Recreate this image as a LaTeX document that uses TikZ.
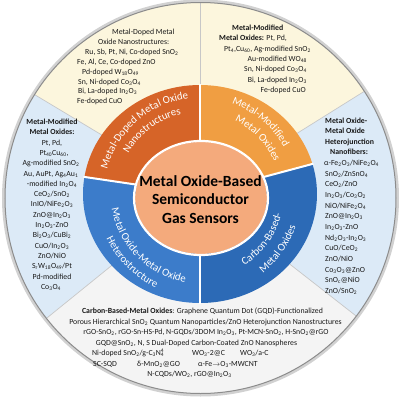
\documentclass[tikz,border=0pt]{standalone}
\usepackage{fontspec}
\setmainfont{Carlito}
\usetikzlibrary{decorations.text}
\newcommand\sbs[1]{\textsubscript{#1}}
\newcommand\subsupr[2]{\rlap{\textsuperscript{#2}}\textsubscript{#1}}
\newcommand\segf{\color{white}\fontsize{10.8}{12}\selectfont}
\definecolor{cream}{RGB}{252,246,221}
\definecolor{lblue}{RGB}{220,234,247}
\definecolor{lgray}{RGB}{244,244,244}
\definecolor{segTL}{RGB}{214,100,40}
\definecolor{segTR}{RGB}{240,158,66}
\definecolor{segBL}{RGB}{60,124,202}
\definecolor{segBR}{RGB}{44,106,182}
\definecolor{cen}{RGB}{244,170,124}
\tikzset{
 sm/.style={font=\fontsize{7.8}{9}\selectfont, inner sep=0pt, text=black!90},
 smw/.style={sm, anchor=base west},
 smc/.style={sm, anchor=base},
 sme/.style={sm, anchor=base east},
 divider/.style={draw=black!22, line width=0.7pt},
 sepline/.style={draw=white, line width=2pt},
 titlefont/.style={font=\bfseries\fontsize{15.5}{18.5}\selectfont, align=center, inner sep=0pt, text=black}
}
\begin{document}
\begin{tikzpicture}[x=1pt,y=1pt]
\useasboundingbox (0,0) rectangle (400,-397);
\fill[white] (0,0) rectangle (400,-397);
\coordinate (O) at (200.5,-198);
\coordinate (C) at (200,-194);
\coordinate (M) at (201,-198);

% outer sectors
\begin{scope}
\clip (O) circle (195.5);
\fill[cream] (C) -- ++(32:300) arc[start angle=32,end angle=149,radius=300] -- cycle;
\fill[lblue] (C) -- ++(149:300) arc[start angle=149,end angle=219,radius=300] -- cycle;
\fill[lgray] (C) -- ++(219:300) arc[start angle=219,end angle=322,radius=300] -- cycle;
\fill[lblue] (C) -- ++(322:300) arc[start angle=322,end angle=392,radius=300] -- cycle;
\foreach \a in {32,90,149,219,322} \draw[divider] (C) -- ++(\a:300);
\end{scope}
\draw[black!18, line width=3pt] (O) circle (197);
\draw[black!45, line width=1pt] (O) circle (195.5);

% ring segments
\fill[segTL] (C) -- ++(90:117 and 109) arc[start angle=90,end angle=171,x radius=117,y radius=109] -- cycle;
\fill[segBL] (C) -- ++(171:117 and 109) arc[start angle=171,end angle=270,x radius=117,y radius=109] -- cycle;
\fill[segBR] (C) -- ++(270:117 and 109) arc[start angle=270,end angle=376,x radius=117,y radius=109] -- cycle;
\fill[segTR] (C) -- ++(16:117 and 109) arc[start angle=16,end angle=90,x radius=117,y radius=109] -- cycle;
\foreach \a in {16,90,171,270} \draw[sepline] (C) -- ++(\a:118 and 110);

% central circle
\fill[cen] (M) ellipse[x radius=66, y radius=56];
\draw[white, line width=2.2pt] (M) ellipse[x radius=67, y radius=57];
\node[titlefont] (title) at (200.5,-199.5) {Metal Oxide-Based\\Semiconductor\\Gas Sensors};

% ring labels
\path[decorate, decoration={text along path, text align=center, text={|\segf|Metal-Doped Metal Oxide}}]
 ([shift={(171:96)}]C) arc[start angle=171, end angle=91, radius=96];
\path[decorate, decoration={text along path, text align=center, text={|\segf|Nanostructures}}]
 ([shift={(167:82)}]C) arc[start angle=167, end angle=87, radius=82];
\path[decorate, decoration={text along path, text align=center, text={|\segf|Metal-Modified}}]
 ([shift={(90:96)}]C) arc[start angle=90, end angle=10, radius=96];
\path[decorate, decoration={text along path, text align=center, text={|\segf|Metal Oxides}}]
 ([shift={(84:81)}]C) arc[start angle=84, end angle=4, radius=81];
\path[decorate, decoration={text along path, text align=center, text={|\segf|Metal Oxide-Metal Oxide}}]
 ([shift={(180:89.5)}]C) arc[start angle=180, end angle=270, radius=89.5];
\path[decorate, decoration={text along path, text align=center, text={|\segf|Heterostructure}}]
 ([shift={(180:103.5)}]C) arc[start angle=180, end angle=270, radius=103.5];
\path[decorate, decoration={text along path, text align=center, text={|\segf|Carbon-Based-}}]
 ([shift={(-76:84)}]C) arc[start angle=-76, end angle=4, radius=84];
\path[decorate, decoration={text along path, text align=center, text={|\segf|Metal Oxides}}]
 ([shift={(-75:101)}]C) arc[start angle=-75, end angle=5, radius=101];

% top-left block
\node[smw] (tl1) at (112,-34.5) {Metal-Doped Metal};
\node[smw] (tl2) at (98,-44.4) {Oxide Nanostructures:};
\node[smw] (tl3) at (85,-54.3) {Ru, Sb, Pt, Ni, Co-doped SnO\sbs{2}};
\node[smw] (tl4) at (77,-64.2) {Fe, Al, Ce, Co-doped ZnO};
\node[smw] (tl5) at (82,-74.1) {Pd-doped W\sbs{18}O\sbs{49}};
\node[smw] (tl6) at (78,-84.0) {Sn, Ni-doped Co\sbs{3}O\sbs{4}};
\node[smw] (tl7) at (78,-93.9) {Bi, La-doped In\sbs{2}O\sbs{3}};
\node[smw] (tl8) at (77,-103.8) {Fe-doped CuO};

% top-right block
\node[smw] (tr1) at (232,-30.5) {\textbf{Metal-Modified}};
\node[smw] (tr2) at (219,-40.8) {\textbf{Metal Oxides:} Pt, Pd,};
\node[sme] (tr3) at (311,-51.1) {Pt\sbs{4},Cu\sbs{60}, Ag-modified SnO\sbs{2}};
\node[sme] (tr4) at (307,-61.4) {Au-modified WO\sbs{48}};
\node[sme] (tr5) at (307,-71.7) {Sn, Ni-doped Co\sbs{3}O\sbs{4}};
\node[sme] (tr6) at (307,-82.0) {Bi, La-doped In\sbs{2}O\sbs{3}};
\node[sme] (tr7) at (306,-92.3) {Fe-doped CuO};

% left block
\node[smc] (l0) at (52,-124.5) {\textbf{Metal-Modified}};
\node[smc] (l1) at (52,-134.8) {\textbf{Metal Oxides:}};
\node[smc] (l2) at (52,-145.1) {Pt, Pd,};
\node[smc] (l3) at (54,-155.4) {Pt\sbs{40}Cu\sbs{60},};
\node[smc] (l4) at (51,-165.7) {Ag-modified SnO\sbs{2}};
\node[smc] (l5) at (51,-176.0) {Au, AuPt, Ag\sbs{4}Au\sbs{1}};
\node[smc] (l6) at (52,-186.3) {-modified In\sbs{2}O\sbs{4}};
\node[smc] (l7) at (52,-196.6) {CeO\sbs{2}/SnO\sbs{2}};
\node[smc] (l8) at (52,-206.9) {InIO/NiFe\sbs{2}O\sbs{3}};
\node[smc] (l9) at (52,-217.2) {ZnO@In\sbs{2}O\sbs{3}};
\node[smc] (l10) at (52,-227.5) {In\sbs{2}O\sbs{3}-ZnO};
\node[smc] (l11) at (52,-237.8) {Bi\sbs{2}O\sbs{3}/CuBi\sbs{2}};
\node[smc] (l12) at (52,-248.1) {CuO/In\sbs{2}O\sbs{3}};
\node[smc] (l13) at (52,-258.4) {ZnO/NiO};
\node[smc] (l14) at (52,-268.7) {S\sbs{r}W\sbs{18}O\sbs{49}/Pt};
\node[smc] (l15) at (52,-279.0) {Pd-modified};
\node[smc] (l16) at (51,-289.3) {Co\sbs{3}O\sbs{4}};

% right block
\node[smw] (r0) at (325,-123.0) {\textbf{Metal Oxide-}};
\node[smw] (r1) at (325,-133.65) {\textbf{Metal Oxide}};
\node[smw] (r2) at (325,-144.3) {\textbf{Heterojunction}};
\node[smw] (r3) at (330,-154.95) {\textbf{Nanofibers:}};
\node[smw] (r4) at (324,-165.6) {α-Fe\sbs{2}O\sbs{3}/NiFe\sbs{2}O\sbs{4}};
\node[smw] (r5) at (325,-176.25) {SnO\sbs{2}/ZnSnO\sbs{4}};
\node[smw] (r6) at (325,-186.9) {CeO\sbs{2}/ZnO};
\node[smw] (r7) at (325,-197.55) {In\sbs{2}O\sbs{3}/Co\sbs{3}O\sbs{2}};
\node[smw] (r8) at (325,-208.2) {NiO/NiFe\sbs{2}O\sbs{4}};
\node[smw] (r9) at (325,-218.85) {ZnO@In\sbs{2}O\sbs{3}};
\node[smw] (r10) at (325,-229.5) {In\sbs{2}O\sbs{3}-ZnO};
\node[smw] (r11) at (325,-240.15) {Nd\sbs{2}O\sbs{3}-In\sbs{2}O\sbs{3}};
\node[smw] (r12) at (325,-250.8) {CuO/CeO\sbs{2}};
\node[smw] (r13) at (325,-261.45) {ZnO/NiO};
\node[smw] (r14) at (325,-272.1) {Co\sbs{3}O\sbs{3}@ZnO};
\node[smw] (r15) at (325,-282.75) {SnO\sbs{c}@NiO};
\node[smw] (r16) at (325,-293.4) {ZnO/SnO\sbs{2}};

% bottom block
\node[smc] (b1) at (202.5,-313.5) {\textbf{Carbon-Based-Metal Oxides}: Graphene Quantum Dot (GQD)-Functionalized};
\node[smc] (b2) at (205.5,-324.0) {Porous Hierarchical SnO\sbs{2} Quantum Nanoparticles/ZnO Heterojunction Nanostructures};
\node[smc] (b3) at (206,-334.5) {rGO-SnO\sbs{2}, rGO-Sn-HS-Pd, N-GQDs/3DOM In\sbs{2}O\sbs{3}, Pt-MCN-SnO\sbs{2}, H-SnO\sbs{2}@rGO};
\node[smc] (b4) at (196.5,-345.0) {GQD@SnO\sbs{2}, N, S Dual-Doped Carbon-Coated ZnO Nanospheres};
\node[smw] (b5a) at (92,-355.5) {Ni-doped SnO\sbs{2}/g-C\sbs{3}N\subsupr{4}{4}};
\node[smw] (b5b) at (192,-355.5) {WO\sbs{3}-2@C};
\node[smw] (b5c) at (240,-355.5) {WO\sbs{3}/a-C};
\node[smw] (b6a) at (93,-366.0) {SC-SQD};
\node[smw] (b6b) at (137,-366.0) {δ-MnO\sbs{2}@GO};
\node[smw] (b6c) at (198,-366.0) {α-Fe{\scriptsize$\rightarrow$}O\sbs{3}-MWCNT};
\node[smc] (b7) at (189.5,-376.5) {N-CQDs/WO\sbs{2}, rGO@In\sbs{2}O\sbs{3}};
\end{tikzpicture}
\end{document}
